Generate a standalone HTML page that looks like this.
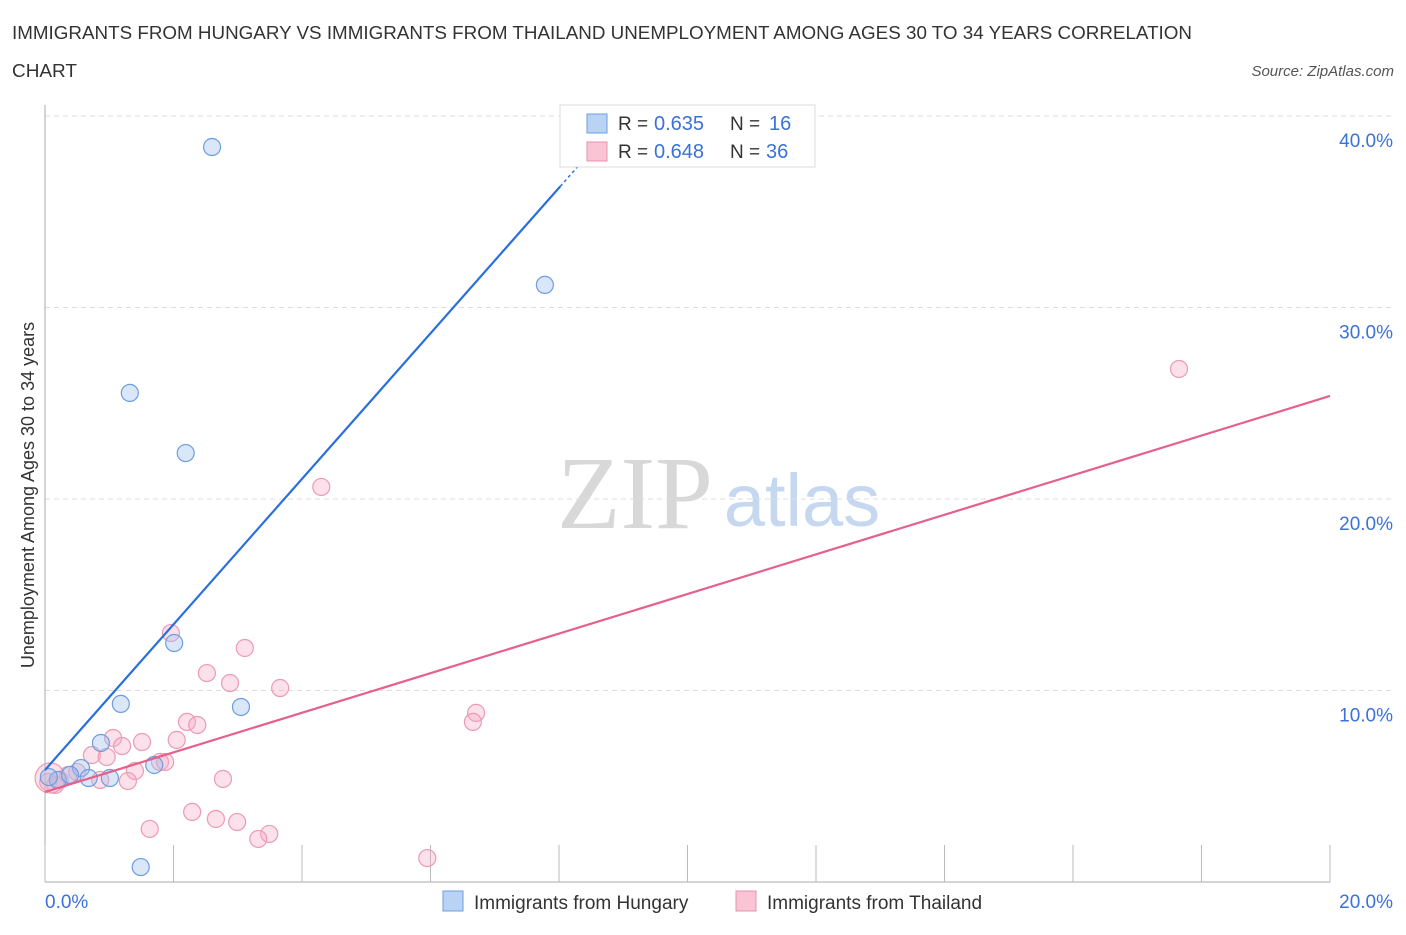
<!DOCTYPE html>
<html><head><meta charset="utf-8"><style>
body{margin:0;background:#fff;font-family:"Liberation Sans",sans-serif;}
</style></head><body>
<svg width="1406" height="930" xmlns="http://www.w3.org/2000/svg" font-family="Liberation Sans, sans-serif">
<text x="12" y="39" font-size="18" fill="#333" textLength="1180" lengthAdjust="spacingAndGlyphs">IMMIGRANTS FROM HUNGARY VS IMMIGRANTS FROM THAILAND UNEMPLOYMENT AMONG AGES 30 TO 34 YEARS CORRELATION</text>
<text x="12" y="77" font-size="18" fill="#333" textLength="65" lengthAdjust="spacingAndGlyphs">CHART</text>
<text x="1394" y="76" font-size="15" fill="#555" font-style="italic" text-anchor="end">Source: ZipAtlas.com</text>
<g>
<text x="635" y="528" font-size="104" fill="#d8d8d8" font-family="Liberation Serif, serif" text-anchor="middle">ZIP</text>
<text x="802" y="526" font-size="74" fill="#c6d8ef" text-anchor="middle">atlas</text>
</g>
<g id="grid"></g>
<g id="axes"></g>
<g id="marks"></g>
<text x="34" y="495" font-size="18" fill="#333" text-anchor="middle" transform="rotate(-90 34 495)">Unemployment Among Ages 30 to 34 years</text>
<g>
<rect x="560" y="105" width="255" height="62" fill="#fff" stroke="#ddd"/>
<rect x="587" y="114" width="20" height="19" fill="#b9d3f5" stroke="#6d9de0"/>
<rect x="587" y="142" width="20" height="19" fill="#f9c5d4" stroke="#e891ab"/>
<text y="130" font-size="19" fill="#333"><tspan x="618">R =</tspan><tspan x="654" fill="#3a72d8" font-size="20">0.635</tspan><tspan x="730">N =</tspan><tspan x="769" fill="#3a72d8" font-size="20">16</tspan></text>
<text y="158" font-size="19" fill="#333"><tspan x="618">R =</tspan><tspan x="654" fill="#3a72d8" font-size="20">0.648</tspan><tspan x="730">N =</tspan><tspan x="766" fill="#3a72d8" font-size="20">36</tspan></text>
</g>
<g>
<rect x="443" y="891" width="20" height="20" fill="#b9d3f5" stroke="#6d9de0"/>
<text x="474" y="909" font-size="19" fill="#333">Immigrants from Hungary</text>
<rect x="736" y="891" width="20" height="20" fill="#f9c5d4" stroke="#e891ab"/>
<text x="767" y="909" font-size="19" fill="#333">Immigrants from Thailand</text>
</g>
</svg>
<script>
const yTicks=[10,20,30,40];
const yTickLabels=["10.0%","20.0%","30.0%","40.0%"];
const xTickLabels=["0.0%","20.0%"];
const hungaryX=[2.60,7.78,1.32,2.19,2.01,1.18,3.05,0.87,1.70,1.01,0.56,0.20,0.06,0.68,1.49,0.39];
const hungaryY=[38.38,31.18,25.54,22.40,12.48,9.30,9.14,7.26,6.11,5.43,5.95,5.33,5.48,5.43,0.78,5.59];
const thaiX=[17.65,4.30,1.96,3.11,2.52,2.88,3.66,6.71,6.66,2.21,2.37,1.06,1.20,1.51,2.05,0.73,0.96,1.40,1.29,1.79,1.87,2.77,2.29,2.66,2.99,3.49,3.32,1.63,5.95,0.86,0.50,0.23,0.36,0.05,0.16,0.08];
const thaiY=[26.79,20.63,13.00,12.22,10.91,10.39,10.13,8.83,8.36,8.36,8.20,7.52,7.10,7.31,7.42,6.63,6.53,5.80,5.27,6.27,6.27,5.38,3.66,3.29,3.13,2.51,2.25,2.77,1.25,5.33,5.74,5.33,5.59,5.22,5.07,5.43];
const hungaryTrend=[5.85,3.80];
const thaiTrend=[4.70,1.034];
const NS="http://www.w3.org/2000/svg";
const X=v=>45+v/20*1285;
const Y=v=>882-v*19.15;
function mk(t,a,p){const e=document.createElementNS(NS,t);for(const k in a)e.setAttribute(k,a[k]);p.appendChild(e);return e;}
const grid=document.getElementById('grid'),axes=document.getElementById('axes'),marks=document.getElementById('marks');
yTicks.forEach((t,i)=>{
 const l=mk('line',{x1:45,x2:1394,y1:Y(t),y2:Y(t),stroke:'#ddd','stroke-dasharray':'5,4'},grid);
 
 
 const tx=mk('text',{x:1393,y:Y(t)+31,'font-size':19,fill:'#3a72d8','text-anchor':'end'},axes);
 tx.textContent=yTickLabels[i];
 
 
});
const ya=mk('line',{x1:45,x2:45,y1:105,y2:882,stroke:'#aaa'},axes);


const xa=mk('line',{x1:45,x2:1330,y1:882,y2:882,stroke:'#aaa'},axes);


for(let i=0;i<=10;i++){
 const t=mk('line',{x1:X(i*2),x2:X(i*2),y1:845,y2:882,stroke:'#bbb'},axes);
 
 
}
[[0,'start',45],[20,'end',1393]].forEach((d,i)=>{
 const tx=mk('text',{x:d[2],y:908,'font-size':19,fill:'#3a72d8','text-anchor':d[1]},axes);
 tx.textContent=xTickLabels[i];
 
 
});
thaiX.forEach((x,i)=>{
 const c=mk('circle',{cx:X(x),cy:Y(thaiY[i]),r:i==thaiX.length-1?15:8.5,fill:'rgba(246,170,195,0.35)',stroke:'#eb9bb3','stroke-width':1.2},marks);
 
 
});
hungaryX.forEach((x,i)=>{
 const c=mk('circle',{cx:X(x),cy:Y(hungaryY[i]),r:8.5,fill:'rgba(160,196,240,0.4)',stroke:'#6d9de0','stroke-width':1.2},marks);
 
 
});
const hl=mk('line',{x1:X(0),y1:Y(hungaryTrend[0]),x2:X(8.02),y2:Y(hungaryTrend[0]+hungaryTrend[1]*8.02),stroke:'#2a6fdb','stroke-width':2.2},marks);


const hd=mk('line',{x1:X(8.02),y1:Y(hungaryTrend[0]+hungaryTrend[1]*8.02),x2:X(8.4),y2:Y(hungaryTrend[0]+hungaryTrend[1]*8.4),stroke:'#2a6fdb','stroke-width':1.5,'stroke-dasharray':'3,3'},marks);


const tl=mk('line',{x1:X(0),y1:Y(thaiTrend[0]),x2:X(20),y2:Y(thaiTrend[0]+thaiTrend[1]*20),stroke:'#e5608a','stroke-width':2.2},marks);


</script>
</body></html>
